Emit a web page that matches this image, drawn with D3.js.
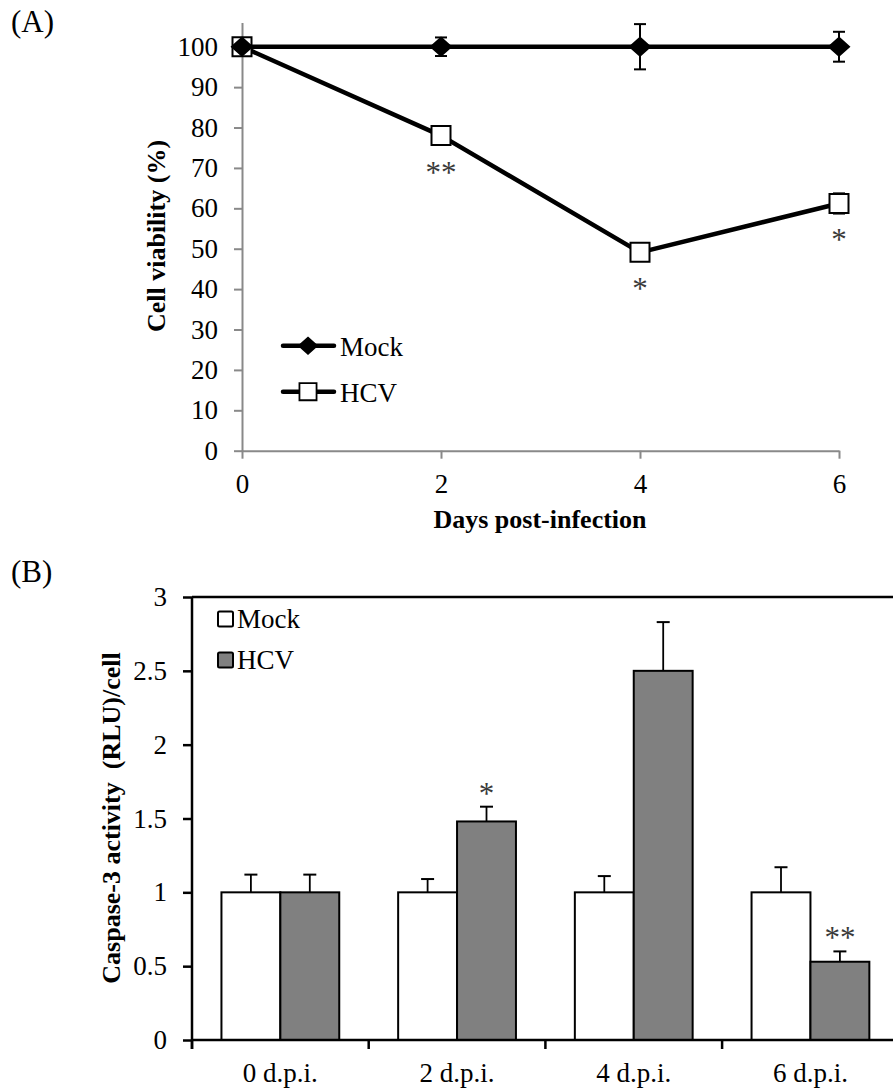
<!DOCTYPE html>
<html>
<head>
<meta charset="utf-8">
<script src="https://cdn.jsdelivr.net/npm/d3@7"></script>
<style>
  body { margin: 0; background: #fff; }
  svg { display: block; font-family: "Liberation Serif", "Times New Roman", serif; }
</style>
</head>
<body>
<svg id="fig" width="893" height="1090"></svg>
<script>
// ---- panel A data: cell viability (%) ----
const days = [0, 2, 4, 6];
const mockViability = [100, 100, 100, 100];
const mockViabilityErr = [0, 2.3, 5.6, 3.7];
const hcvViability = [100, 78, 49.1, 61.2];
const hcvViabilityErr = [0, 1.5, 1.5, 2.5];
const hcvViabilitySig = ["", "**", "*", "*"];
const viabilityTicks = [0, 10, 20, 30, 40, 50, 60, 70, 80, 90, 100];

// ---- panel B data: caspase-3 activity ----
const dpiLabels = ["0 d.p.i.", "2 d.p.i.", "4 d.p.i.", "6 d.p.i."];
const mockCaspase = [1, 1, 1, 1];
const mockCaspaseErr = [0.12, 0.09, 0.11, 0.17];
const hcvCaspase = [1, 1.48, 2.5, 0.53];
const hcvCaspaseErr = [0.12, 0.10, 0.33, 0.07];
const hcvCaspaseSig = ["", "*", "", "**"];
const caspaseTicks = [0, 0.5, 1, 1.5, 2, 2.5, 3];

const svg = d3.select("#fig");
const fs = 27;      // regular text
const fsSig = 31;   // asterisks
const grey = "#898989";

// ================= Panel A =================
const gA = svg.append("g");
const xA = d3.scaleLinear().domain([0, 6]).range([242, 839]);
const yA = d3.scaleLinear().domain([0, 106]).range([450.7, 22.5]);

gA.append("text").attr("x", 11).attr("y", 32).attr("font-size", 31).text("(A)");

const axAy = gA.append("g").attr("transform", `translate(${xA(0)},0)`)
  .call(d3.axisLeft(yA).tickValues(viabilityTicks).tickSize(8).tickSizeOuter(0).tickPadding(16));
const axAx = gA.append("g").attr("transform", `translate(0,${yA(0)})`)
  .call(d3.axisBottom(xA).tickValues(days).tickFormat(d3.format("d")).tickSize(8).tickSizeOuter(0).tickPadding(15));
[axAy, axAx].forEach(ax => {
  ax.selectAll("path, line").attr("stroke", grey).attr("stroke-width", 2);
  ax.selectAll("text").attr("font-size", fs).attr("fill", "#000")
    .attr("font-family", "Liberation Serif");
});

gA.append("text")
  .attr("transform", "translate(165,236) rotate(-90)")
  .attr("text-anchor", "middle").attr("font-size", 26).attr("font-weight", "bold")
  .text("Cell viability (%)");
gA.append("text")
  .attr("x", 540).attr("y", 528)
  .attr("text-anchor", "middle").attr("font-size", 26).attr("font-weight", "bold")
  .text("Days post-infection");

const lineA = d3.line().x(d => xA(d.day)).y(d => yA(d.v));
const diamond = "M0,-9L10,0L0,9L-10,0Z";
const square = "M-9.5,-9.5H9.5V9.5H-9.5Z";

function drawSeries(vals, errs, shape, fill) {
  const pts = days.map((d, i) => ({ day: d, v: vals[i], e: errs[i] }));
  gA.append("path").datum(pts).attr("d", lineA)
    .attr("fill", "none").attr("stroke", "#000").attr("stroke-width", 4.5)
    .attr("stroke-linejoin", "round");
  const eb = gA.append("g").selectAll("g").data(pts.filter(p => p.e > 0)).join("g")
    .attr("stroke", "#000").attr("stroke-width", 2);
  eb.append("line").attr("x1", p => xA(p.day)).attr("x2", p => xA(p.day))
    .attr("y1", p => yA(p.v + p.e)).attr("y2", p => yA(p.v - p.e));
  eb.append("line").attr("x1", p => xA(p.day) - 6).attr("x2", p => xA(p.day) + 6)
    .attr("y1", p => yA(p.v + p.e)).attr("y2", p => yA(p.v + p.e));
  eb.append("line").attr("x1", p => xA(p.day) - 6).attr("x2", p => xA(p.day) + 6)
    .attr("y1", p => yA(p.v - p.e)).attr("y2", p => yA(p.v - p.e));
  gA.append("g").selectAll("path").data(pts).join("path")
    .attr("transform", p => `translate(${xA(p.day)},${yA(p.v)})`)
    .attr("d", shape).attr("fill", fill).attr("stroke", "#000").attr("stroke-width", 2);
  return pts;
}
drawSeries(hcvViability, hcvViabilityErr, square, "#fff");
drawSeries(mockViability, mockViabilityErr, diamond, "#000");

gA.append("g").selectAll("text").data(days.map((d, i) => ({ day: d, v: hcvViability[i], s: hcvViabilitySig[i] })))
  .join("text")
  .attr("x", d => xA(d.day)).attr("y", d => yA(d.v) + 47)
  .attr("text-anchor", "middle").attr("font-size", fsSig).attr("fill", "#3a3a3a")
  .text(d => d.s);

// legend A
const legA = [
  { name: "Mock", shape: diamond, fill: "#000", y: 345.7 },
  { name: "HCV", shape: square, fill: "#fff", y: 391.7 }
];
const la = gA.append("g").selectAll("g").data(legA).join("g")
  .attr("transform", d => `translate(0,${d.y})`);
la.append("line").attr("x1", 283).attr("x2", 334).attr("stroke", "#000")
  .attr("stroke-width", 4.5).attr("stroke-linecap", "round");
la.append("path").attr("transform", "translate(308,0) scale(0.9)")
  .attr("d", d => d.shape).attr("fill", d => d.fill).attr("stroke", "#000").attr("stroke-width", 2);
la.append("text").attr("x", 340).attr("y", 10).attr("font-size", fs).text(d => d.name);

// ================= Panel B =================
const gB = svg.append("g");
const xB = d3.scaleBand().domain(dpiLabels).range([192, 192 + 4 * 176.7]).padding(0);
const series = ["Mock", "HCV"];
const xSub = d3.scaleBand().domain(series).range([0, xB.bandwidth()]).paddingInner(0).paddingOuter(0.5);
const yB = d3.scaleLinear().domain([0, 3]).range([1040, 597]);
const colors = { Mock: "#fff", HCV: "#808080" };

gB.append("text").attr("x", 11).attr("y", 582).attr("font-size", 31).text("(B)");

const axBy = gB.append("g").attr("transform", `translate(${xB.range()[0]},0)`)
  .call(d3.axisLeft(yB).tickValues(caspaseTicks).tickFormat(d3.format("")).tickSize(9).tickSizeOuter(0).tickPadding(16));
axBy.selectAll("path").remove();
axBy.selectAll("line").attr("stroke", "#000").attr("stroke-width", 2.5);
axBy.selectAll("text").attr("font-size", fs).attr("fill", "#000").attr("font-family", "Liberation Serif");

// y axis line extends below zero, top frame line
gB.append("line").attr("x1", xB.range()[0]).attr("x2", xB.range()[0])
  .attr("y1", yB(3)).attr("y2", yB(0) + 9).attr("stroke", "#000").attr("stroke-width", 2.5);
gB.append("line").attr("x1", xB.range()[0]).attr("x2", 893)
  .attr("y1", yB(3)).attr("y2", yB(3)).attr("stroke", "#000").attr("stroke-width", 2.5);

const groups = dpiLabels.map((c, i) => ({
  cat: c,
  bars: [
    { s: "Mock", v: mockCaspase[i], e: mockCaspaseErr[i], sig: "" },
    { s: "HCV", v: hcvCaspase[i], e: hcvCaspaseErr[i], sig: hcvCaspaseSig[i] }
  ]
}));

const bars = gB.append("g").selectAll("g").data(groups).join("g")
  .attr("transform", d => `translate(${xB(d.cat)},0)`)
  .selectAll("g").data(d => d.bars).join("g");

bars.append("line")
  .attr("x1", d => xSub(d.s) + xSub.bandwidth() / 2).attr("x2", d => xSub(d.s) + xSub.bandwidth() / 2)
  .attr("y1", d => yB(d.v)).attr("y2", d => yB(d.v + d.e))
  .attr("stroke", "#000").attr("stroke-width", 1.8);
bars.append("line")
  .attr("x1", d => xSub(d.s) + xSub.bandwidth() / 2 - 6.5).attr("x2", d => xSub(d.s) + xSub.bandwidth() / 2 + 6.5)
  .attr("y1", d => yB(d.v + d.e)).attr("y2", d => yB(d.v + d.e))
  .attr("stroke", "#000").attr("stroke-width", 2);
bars.append("rect")
  .attr("x", d => xSub(d.s)).attr("width", xSub.bandwidth())
  .attr("y", d => yB(d.v)).attr("height", d => yB(0) - yB(d.v))
  .attr("fill", d => colors[d.s]).attr("stroke", "#000").attr("stroke-width", 2);
bars.append("text")
  .attr("x", d => xSub(d.s) + xSub.bandwidth() / 2)
  .attr("y", d => yB(d.v + d.e) - 3)
  .attr("text-anchor", "middle").attr("font-size", fsSig).attr("fill", "#3a3a3a")
  .text(d => d.sig);

// x axis with ticks at category boundaries
gB.append("line").attr("x1", xB.range()[0]).attr("x2", 893)
  .attr("y1", yB(0)).attr("y2", yB(0)).attr("stroke", "#000").attr("stroke-width", 2.5);
gB.append("g").selectAll("line").data(dpiLabels).join("line")
  .attr("x1", d => xB(d)).attr("x2", d => xB(d))
  .attr("y1", yB(0)).attr("y2", yB(0) + 9).attr("stroke", "#000").attr("stroke-width", 2.5);
gB.append("g").selectAll("text").data(dpiLabels).join("text")
  .attr("x", d => xB(d) + xB.bandwidth() / 2).attr("y", 1082)
  .attr("text-anchor", "middle").attr("font-size", fs).text(d => d);

gB.append("text")
  .attr("transform", "translate(120,818) rotate(-90)")
  .attr("text-anchor", "middle").attr("font-size", 26).attr("font-weight", "bold")
  .style("white-space", "pre")
  .text("Caspase-3 activity  (RLU)/cell");

// legend B
const legB = gB.append("g").selectAll("g").data(series).join("g")
  .attr("transform", (d, i) => `translate(218,${619 + i * 41})`);
legB.append("rect").attr("x", 0).attr("y", -7.5).attr("width", 15).attr("height", 15)
  .attr("rx", 1.5).attr("fill", d => colors[d]).attr("stroke", "#000").attr("stroke-width", 2);
legB.append("text").attr("x", 19).attr("y", 9).attr("font-size", fs).text(d => d);
</script>
</body>
</html>
